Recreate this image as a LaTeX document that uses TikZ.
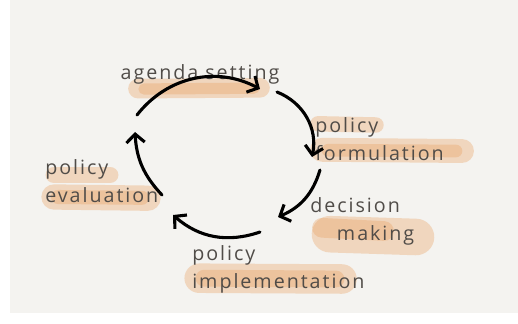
\documentclass[tikz,border=0pt]{standalone}
\usepackage{fontspec}
\setmainfont[LetterSpace=10]{Open Sans}
\usepackage{xcolor}
\usetikzlibrary{arrows.meta,backgrounds}
\definecolor{paper}{RGB}{244,243,240}
\definecolor{marker}{RGB}{234,160,96}
\definecolor{ink}{RGB}{80,76,72}

\begin{document}
\begin{tikzpicture}[
  lbl/.style={text=ink,align=left,inner sep=0pt,font=\fontsize{14}{20}\selectfont},
  brush/.style={draw=marker,line cap=round,draw opacity=0.34},
  cyc/.style={line width=2.2pt,line cap=round,-{Straight Barb[length=6pt,width=13pt,line width=2.2pt]}}
]
\useasboundingbox (0,0) rectangle (12.95,8.075);
%%%%%%%%%%%%%%%% labels
\node[lbl] (agenda) at (5.0,6.22) {agenda setting};
\node[lbl,anchor=west] (formul) at (7.875,4.6) {policy\\formulation};
\node[lbl,anchor=west] (decis) at (7.75,2.55) {decision\\\hspace*{19pt}making};
\node[lbl,anchor=west] (implem) at (4.8,1.35) {policy\\implementation};
\node[lbl,anchor=west] (evalu) at (1.125,3.55) {policy\\evaluation};
%%%%%%%%%%%%%%%% arrow ends
\coordinate (c1a) at (3.425,5.2);
\coordinate (c1b) at (6.5,5.85);
\coordinate (c2a) at (6.925,5.775);
\coordinate (c2b) at (7.8,4.15);
\coordinate (c3a) at (8.0,3.825);
\coordinate (c3b) at (6.95,2.65);
\coordinate (c4a) at (6.5,2.275);
\coordinate (c4b) at (4.325,2.7);
\coordinate (c5a) at (4.05,3.2);
\coordinate (c5b) at (3.375,4.775);
%%%%%%%%%%%%%%%% cycle
\draw[cyc] (c1a) to[bend left=40] (c1b);
\draw[cyc] (c2a) to[bend left=40] (c2b);
\draw[cyc] (c3a) to[bend left=25] (c3b);
\draw[cyc] (c4a) to[bend left=30] (c4b);
\draw[cyc] (c5a) to[bend left=20] (c5b);
%%%%%%%%%%%%%%%% paper and marker strokes
\begin{scope}[on background layer]
\fill[white] (0,0) rectangle (12.95,8.075);
\fill[paper] (0.25,0.25) rectangle (12.95,8.075);
% agenda setting
\draw[brush,line width=14pt] (3.45,5.86) -- (6.5,5.88);
\draw[brush,line width=8pt] (3.6,5.85) -- (6.35,5.87);
% policy formulation
\draw[brush,line width=11pt] (7.95,4.98) -- (9.4,4.95);
\draw[brush,line width=17pt] (8.05,4.33) -- (11.55,4.3);
\draw[brush,line width=9pt] (8.2,4.32) -- (11.4,4.3);
% decision making
\draw[brush,line width=26pt] (8.25,2.22) -- (10.4,2.15);
\draw[brush,line width=14pt] (8.05,2.38) -- (9.6,2.3);
% policy implementation
\draw[brush,line width=21pt] (4.98,1.12) -- (8.55,1.1);
\draw[brush,line width=12pt] (5.1,1.12) -- (8.4,1.1);
% policy evaluation
\draw[brush,line width=12pt] (1.35,3.7) -- (2.75,3.7);
\draw[brush,line width=18pt] (1.35,3.15) -- (3.7,3.12);
\draw[brush,line width=10pt] (1.45,3.15) -- (3.55,3.13);
\end{scope}
\end{tikzpicture}
\end{document}
